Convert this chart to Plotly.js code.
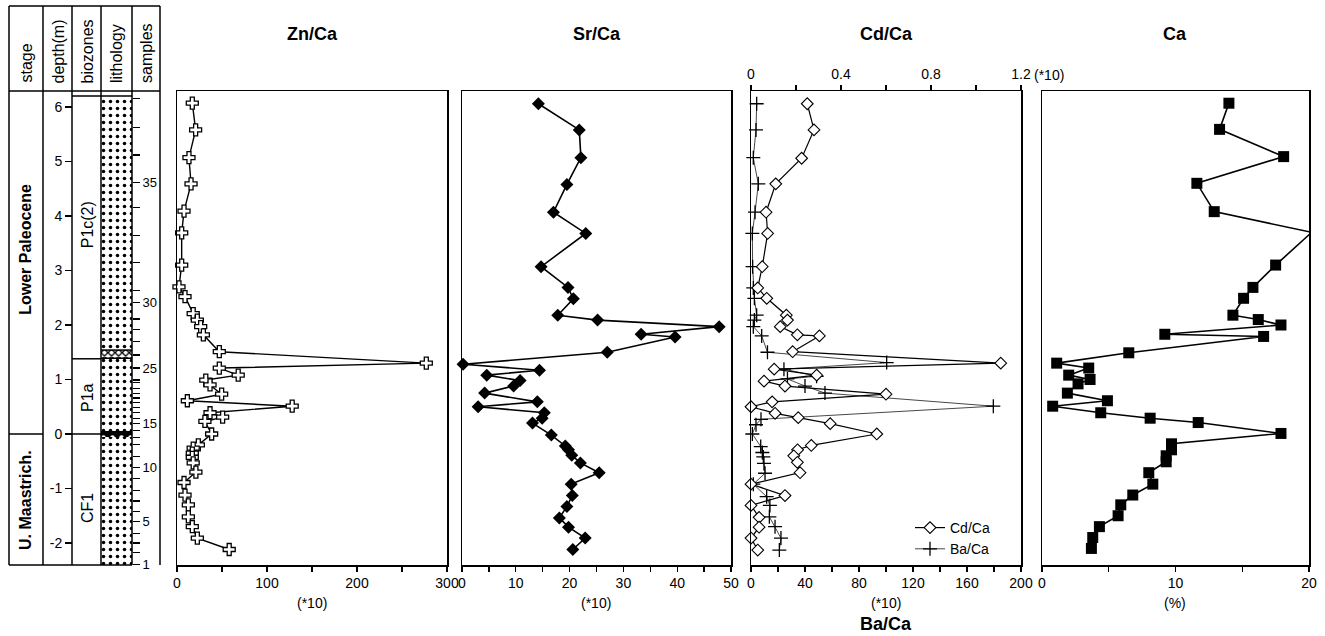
<!DOCTYPE html>
<html>
<head>
<meta charset="utf-8">
<script src="https://cdn.plot.ly/plotly-3.0.1.min.js"></script>
<style>html,body{margin:0;padding:0;background:#fff;}#chart{width:1325px;height:636px;}</style>
</head>
<body>
<div id="chart"></div>
<script>
// ---------------- DATA ----------------
// depth (m) relative to K/T boundary
const znDepth = [6.07,5.58,5.07,4.59,4.09,3.69,3.10,2.70,2.52,2.21,2.09,1.97,1.82,1.51,1.30,1.21,1.08,0.99,0.90,0.73,0.61,0.51,0.39,0.31,0.23,0.00,-0.20,-0.26,-0.35,-0.43,-0.53,-0.70,-0.89,-1.12,-1.30,-1.52,-1.70,-1.91,-2.12];
const znVal   = [17,20.7,13.3,15.6,7.8,5.2,5.2,2.2,8.9,18,22.6,26.3,29.3,47,277,47,68,32,36.7,49.6,11.5,128,36.7,50.7,31,38.5,23.7,18,17,17,18,21,7.8,8.9,12.6,12.6,17,22.6,58];

const srDepth = [6.06,5.58,5.07,4.58,4.07,3.68,3.07,2.69,2.48,2.18,2.09,1.97,1.83,1.78,1.50,1.28,1.17,1.08,0.98,0.88,0.75,0.59,0.50,0.39,0.29,0.20,-0.02,-0.22,-0.29,-0.39,-0.53,-0.71,-0.92,-1.13,-1.33,-1.54,-1.71,-1.91,-2.12];
const srVal   = [14.2,21.8,22.1,19.5,17.0,23.0,14.7,19.7,20.7,17.8,25.2,47.8,33.3,39.6,27.0,0.2,14.4,4.6,10.8,9.6,4.2,14.0,3.0,15.3,14.9,13.1,16.6,19.2,19.8,20.4,22.0,25.5,20.3,20.5,19.5,18.1,19.8,22.9,20.6];

const cdDepth = [6.06,5.58,5.06,4.59,4.07,3.68,3.07,2.68,2.49,2.18,2.09,1.97,1.82,1.80,1.51,1.30,1.19,1.08,0.97,0.88,0.73,0.59,0.50,0.38,0.30,0.19,0.00,-0.21,-0.29,-0.40,-0.52,-0.71,-0.92,-1.13,-1.31,-1.53,-1.71,-1.91,-2.13];
const cdVal   = [0.25,0.28,0.225,0.11,0.067,0.074,0.05,0.03,0.07,0.157,0.162,0.13,0.206,0.304,0.185,1.11,0.103,0.292,0.058,0.151,0.60,0.094,0.0,0.107,0.21,0.352,0.559,0.268,0.207,0.19,0.206,0.218,0.0,0.151,0.0,0.036,0.036,0.0,0.03];

const baDepth = [6.06,5.58,5.07,4.59,4.07,3.68,3.07,2.68,2.49,2.18,2.09,1.97,1.80,1.50,1.31,1.19,1.06,1.01,0.88,0.75,0.51,0.27,0.17,0.00,-0.23,-0.34,-0.42,-0.54,-0.72,-0.92,-1.15,-1.31,-1.52,-1.70,-1.91,-2.13];
const baVal   = [4.2,3.7,1.7,5.4,3,1,1.2,1.7,2.5,4.2,2.5,1.7,7.9,12.2,100.5,24.4,48.6,27,40,54.8,179.5,7.4,3.7,1,7.2,8.4,9.1,9.6,10.4,1.7,11.6,14,13.6,17.8,22.2,21];

const caDepth = [6.07,5.59,5.09,4.60,4.08,3.70,3.10,2.69,2.49,2.18,2.10,2.00,1.83,1.79,1.49,1.30,1.21,1.08,1.00,0.92,0.75,0.61,0.51,0.39,0.29,0.21,0.01,-0.18,-0.29,-0.40,-0.51,-0.71,-0.92,-1.12,-1.30,-1.50,-1.70,-1.90,-2.10];
const caVal   = [14.0,13.3,18.1,11.6,12.9,20.2,17.5,15.8,15.1,14.3,16.2,17.9,9.2,16.6,6.5,1.1,3.5,2.0,3.6,2.7,1.9,4.9,0.8,4.4,8.1,11.7,17.9,9.7,9.7,9.3,9.3,8.0,8.3,6.8,5.9,5.7,4.3,3.8,3.7];

// stratigraphic column
const depthTicks = [6,5,4,3,2,1,0,-1,-2];
const sampleNums  = [1,2,3,4,5,6,7,8,9,10,11,12,13,14,15,16,17,18,19,20,21,22,23,24,25,26,27,28,29,30,31,32,33,34,35,36,37,38];
const sampleDepth = [-2.40,-2.18,-2.00,-1.82,-1.61,-1.43,-1.23,-1.03,-0.81,-0.61,-0.42,-0.20,-0.06,0.07,0.20,0.29,0.39,0.48,0.57,0.66,0.75,0.84,0.94,0.99,1.21,1.45,1.69,1.91,2.11,2.42,2.64,3.14,3.65,4.15,4.62,5.12,5.63,6.15];
const sampleLabelled = [1,5,10,15,25,30,35];
const stageNames = ["Lower Paleocene","U. Maastrich."];
const stageCenters = [3.38,-1.21];
const stageBoundary = 0;
const zoneNames = ["P1c(2)","P1a","CF1"];
const zoneCenters = [3.83,0.66,-1.36];
const zoneBoundaries = [6.2,1.38,0];
const columnTop = 6.2;
const columnBottom = -2.404;
const bandA = [1.39,1.54];
const bandB = [-0.06,0.06];

const headers = ["stage","depth(m)","biozones","lithology","samples"];

// ---------------- LAYOUT HELPERS ----------------
const W = 1325, H = 636;
const px = x => x / W;
const py = y => 1 - y / H;
const FONT = "Liberation Sans, Arial, Helvetica, sans-serif";
const yRange = [-2.404, 6.294];
const yDom = [py(565), py(91)];

function panelY(anchor){
  return {domain:yDom, range:yRange, anchor:anchor, showline:true, mirror:true, linewidth:1.5, linecolor:'#000',
          ticks:'', showticklabels:false, showgrid:false, zeroline:false, fixedrange:true};
}
function panelX(dom, anchor, range, tv, tt){
  return {domain:[px(dom[0]),px(dom[1])], anchor:anchor, range:range, showline:true, mirror:true, linewidth:1.5,
          linecolor:'#000', ticks:'outside', ticklen:5, tickwidth:1.2, tickcolor:'#000', tickvals:tv, ticktext:tt,
          showgrid:false, zeroline:false, tickfont:{family:FONT,size:14,color:'#000'}, fixedrange:true};
}

const traces = [
  {x:znVal, y:znDepth, xaxis:'x', yaxis:'y', mode:'lines+markers', type:'scatter', showlegend:false, cliponaxis:false,
   line:{color:'#000',width:1.4}, marker:{symbol:'cross', size:10, color:'#fff', line:{color:'#000',width:1.3}}},
  {x:srVal, y:srDepth, xaxis:'x2', yaxis:'y2', mode:'lines+markers', type:'scatter', showlegend:false, cliponaxis:false,
   line:{color:'#000',width:1.6}, marker:{symbol:'diamond', size:10, color:'#000'}},
  {x:baVal, y:baDepth, xaxis:'x3', yaxis:'y3', mode:'lines+markers', type:'scatter', name:'Ba/Ca', cliponaxis:false,
   line:{color:'#333',width:0.9}, marker:{symbol:'cross-thin', size:10, line:{color:'#000',width:1.3}}},
  {x:cdVal, y:cdDepth, xaxis:'x6', yaxis:'y3', mode:'lines+markers', type:'scatter', name:'Cd/Ca', cliponaxis:false,
   line:{color:'#000',width:1.2}, marker:{symbol:'diamond', size:9, color:'#fff', line:{color:'#000',width:1.1}}},
  {x:caVal, y:caDepth, xaxis:'x4', yaxis:'y4', mode:'lines+markers', type:'scatter', showlegend:false, cliponaxis:false,
   line:{color:'#000',width:1.6}, marker:{symbol:'square', size:11, color:'#000'}},
  // lithology column
  {type:'bar', x:[116.5], y:[columnTop-columnBottom], base:[columnBottom], width:[31], xaxis:'x5', yaxis:'y5', showlegend:false, hoverinfo:'skip',
   marker:{color:'#fff', line:{width:0}, pattern:{shape:'.', fgcolor:'#000', bgcolor:'#fff', size:7, solidity:0.2}}},
  {type:'bar', x:[116.5], y:[bandA[1]-bandA[0]], base:[bandA[0]], width:[31], xaxis:'x5', yaxis:'y5', showlegend:false, hoverinfo:'skip',
   marker:{color:'#fff', line:{width:0}, pattern:{shape:'x', fgcolor:'#000', bgcolor:'#fff', size:5, solidity:0.45}}},
  {type:'bar', x:[116.5], y:[bandB[1]-bandB[0]], base:[bandB[0]], width:[31], xaxis:'x5', yaxis:'y5', showlegend:false, hoverinfo:'skip',
   marker:{color:'#000', line:{width:0}, pattern:{shape:'.', fgcolor:'#fff', bgcolor:'#000', size:9, solidity:0.2}}},
  {type:'scatter', x:[116.5], y:[0], xaxis:'x5', yaxis:'y6', mode:'markers', marker:{opacity:0,size:1}, showlegend:false, hoverinfo:'skip'}
];

const shapes = [];
function L(x0,y0,x1,y1,yref){shapes.push({type:'line', xref:'paper', yref:yref||'paper', x0:px(x0), x1:px(x1),
  y0: yref? y0 : py(y0), y1: yref? y1 : py(y1), line:{color:'#000', width:1.5}});}
L(9,6,160,6); L(9,91,160,91); L(9,565,132,565);
[9,43,72,101,132,160].forEach(x=>L(x,6,x,565));
L(9,stageBoundary,43,stageBoundary,'y5');
L(72,zoneBoundaries[0],132,zoneBoundaries[0],'y5');
L(72,zoneBoundaries[1],101,zoneBoundaries[1],'y5');
L(72,zoneBoundaries[2],101,zoneBoundaries[2],'y5');
L(101,bandA[1],132,bandA[1],'y5'); L(101,bandA[0],132,bandA[0],'y5');

const annotations = [];
function A(text,x,y,opt){annotations.push(Object.assign({text:text, x:x, y:y, xref:'paper', yref:'paper', showarrow:false,
  xanchor:'center', yanchor:'middle', font:{family:FONT, size:14, color:'#000'}}, opt||{}));}
const hx = [26,57.5,86.5,116.5,146];
headers.forEach((h,i)=>A(h, px(hx[i]), py(85), {textangle:-90, yanchor:'bottom', font:{family:FONT,size:16,color:'#000'}}));
stageNames.forEach((s,i)=>A('<b>'+s+'</b>', px(26), stageCenters[i], {yref:'y5', textangle:-90, font:{family:FONT,size:16,color:'#000'}}));
zoneNames.forEach((s,i)=>A(s, px(87), zoneCenters[i], {yref:'y5', textangle:-90, font:{family:FONT,size:16,color:'#000'}}));
const titleFont = {family:FONT, size:18, color:'#000'};
A('<b>Zn/Ca</b>', px(312), py(34), {font:titleFont});
A('<b>Sr/Ca</b>', px(597), py(34), {font:titleFont});
A('<b>Cd/Ca</b>', px(886), py(34), {font:titleFont});
A('<b>Ca</b>', px(1175), py(34), {font:titleFont});
A('(*10)', px(312), py(603));
A('(*10)', px(596), py(603));
A('(*10)', px(886), py(603));
A('<b>Ba/Ca</b>', px(886), py(624), {font:titleFont});
A('(%)', px(1175), py(603));
A('(*10)', px(1032), py(75), {xanchor:'left'});

const layout = {
  width:W, height:H, margin:{l:0,r:0,t:0,b:0}, paper_bgcolor:'#fff', plot_bgcolor:'rgba(0,0,0,0)',
  font:{family:FONT, color:'#000'}, barmode:'overlay', bargap:0,
  xaxis:  panelX([177,447],'y',[0,300],[0,50,100,150,200,250,300],['0','','100','','200','','300']),
  xaxis2: panelX([462,731],'y2',[0,50],[0,5,10,15,20,25,30,35,40,45,50],['0','','10','','20','','30','','40','','50']),
  xaxis3: panelX([751,1021],'y3',[0,200],[0,20,40,60,80,100,120,140,160,180,200],['0','','40','','80','','120','','160','','200']),
  xaxis4: panelX([1042,1309],'y4',[0,20],[0,5,10,15,20],['0','','10','','20']),
  xaxis5: {domain:[px(9),px(162)], anchor:'y5', range:[9,162], visible:false, fixedrange:true},
  xaxis6: Object.assign(panelX([751,1021],'y3',[0,1.2],[0,0.2,0.4,0.6,0.8,1.0,1.2],['0','','0.4','','0.8','','1.2']),
          {overlaying:'x3', side:'top', mirror:false}),
  yaxis: panelY('x'), yaxis2: panelY('x2'), yaxis3: panelY('x3'), yaxis4: panelY('x4'),
  yaxis5: {domain:yDom, range:yRange, anchor:'free', position:px(72), side:'left', showline:false, showgrid:false, zeroline:false,
           ticks:'outside', ticklen:7, tickwidth:1.3, tickcolor:'#000', tickvals:depthTicks, ticktext:depthTicks.map(String),
           tickfont:{family:FONT,size:14,color:'#000'}, fixedrange:true},
  yaxis6: {overlaying:'y5', range:yRange, anchor:'free', position:px(132), side:'right', showline:false, showgrid:false, zeroline:false,
           ticks:'outside', ticklen:7, tickwidth:1.1, tickcolor:'#000', tickvals:sampleDepth,
           ticktext:sampleNums.map(n=>sampleLabelled.includes(n)?String(n):''),
           tickfont:{family:FONT,size:13,color:'#000'}, fixedrange:true},
  showlegend:true,
  legend:{x:px(910), y:py(512), xanchor:'left', yanchor:'top', bgcolor:'rgba(0,0,0,0)', font:{family:FONT,size:14,color:'#000'},
          traceorder:'reversed', itemwidth:30},
  shapes:shapes, annotations:annotations
};

Plotly.newPlot('chart', traces, layout, {staticPlot:true, displayModeBar:false});
</script>
</body>
</html>
